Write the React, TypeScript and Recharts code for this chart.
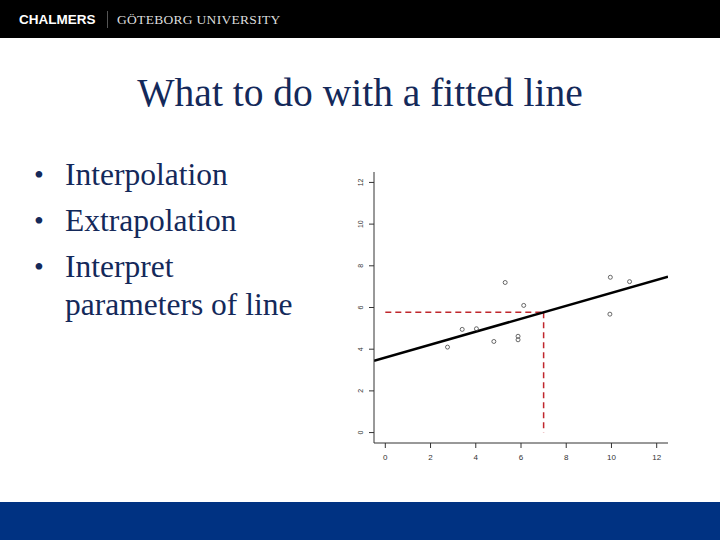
import React from 'react';
import { ComposedChart, Line, Scatter, XAxis, YAxis, ReferenceLine } from 'recharts';

const bullets = ['Interpolation', 'Extrapolation', 'Interpret parameters of line'];
const axisTicks = [0, 2, 4, 6, 8, 10, 12];

// observed points
const pointX = [2.75, 3.4, 4.03, 4.8, 5.3, 5.87, 5.87, 6.12, 9.95, 10.8, 9.93];
const pointY = [4.1, 4.95, 4.98, 4.37, 7.2, 4.62, 4.45, 6.1, 7.45, 7.24, 5.68];

// fitted line endpoints
const fitX = [-0.5, 12.5];
const fitY = [3.44, 7.48];

// interpolation at x = 7
const readX = 7;
const readY = 5.77;

const points = pointX.map((x, i) => ({ x, y: pointY[i] }));
const fit = fitX.map((x, i) => ({ x, y: fitY[i] }));

const navy = '#14295a';
const red = '#c0262c';

function YTick(props: any) {
  const { x, y, payload } = props;
  return (
    <text x={x - 4} y={y} transform={`rotate(-90 ${x - 4} ${y})`} textAnchor="middle" fontSize={7} fill="#333" fontFamily="Liberation Sans, Arial">
      {payload.value}
    </text>
  );
}

function XTick(props: any) {
  const { x, y, payload } = props;
  return (
    <text x={x} y={y + 10} textAnchor="middle" fontSize={8} fill="#333" fontFamily="Liberation Sans, Arial">
      {payload.value}
    </text>
  );
}

const Dot = (props: any) => (
  <circle cx={props.cx} cy={props.cy} r={2} fill="none" stroke="#444" strokeWidth={0.8} />
);

export default function App() {
  return (
    <div style={{ position: 'absolute', left: 0, top: 0, width: 720, height: 540, background: '#fff', overflow: 'hidden' }}>
      <div style={{ position: 'absolute', left: 0, top: 0, width: 720, height: 38, background: '#000' }}>
        <span style={{ position: 'absolute', left: 19, top: 12, color: '#fff', fontFamily: 'Liberation Sans, Arial', fontWeight: 'bold', fontSize: 13.5, lineHeight: '16px' }}>CHALMERS</span>
        <div style={{ position: 'absolute', left: 107, top: 11, width: 1, height: 17, background: '#555' }} />
        <span style={{ position: 'absolute', left: 117, top: 12, color: '#ddd', fontFamily: 'Liberation Serif, Times New Roman', fontSize: 13.5, lineHeight: '16px', letterSpacing: 0.3 }}>GÖTEBORG UNIVERSITY</span>
      </div>
      <div style={{ position: 'absolute', left: 0, top: 71, width: 720, textAlign: 'center', color: navy, fontFamily: 'Liberation Serif, Times New Roman', fontSize: 39.5, lineHeight: '44px' }}>
        What to do with a fitted line
      </div>
      <ul style={{ position: 'absolute', left: 34, top: 156, width: 275, margin: 0, padding: 0, listStyle: 'none', color: navy, fontFamily: 'Liberation Serif, Times New Roman', fontSize: 31.5, lineHeight: '38px' }}>
        {bullets.map((b) => (
          <li key={b} style={{ position: 'relative', paddingLeft: 31, marginBottom: 8 }}>
            <span style={{ position: 'absolute', left: 0, top: 0, fontSize: 28 }}>•</span>
            {b}
          </li>
        ))}
      </ul>
      <div style={{ position: 'absolute', left: 340, top: 160 }}>
        <ComposedChart width={340} height={310} margin={{ top: 12, right: 12, bottom: 5, left: 10 }}>
          <XAxis dataKey="x" type="number" domain={[-0.5, 12.5]} ticks={axisTicks} tick={<XTick />} tickSize={5} stroke="#333" height={22} allowDataOverflow />
          <YAxis dataKey="y" type="number" domain={[-0.5, 12.5]} ticks={axisTicks} tick={<YTick />} tickSize={5} stroke="#333" width={24} allowDataOverflow />
          <ReferenceLine segment={[{ x: 0, y: readY }, { x: readX, y: readY }]} stroke={red} strokeWidth={1.5} strokeDasharray="6 4" />
          <ReferenceLine segment={[{ x: readX, y: readY }, { x: readX, y: 0 }]} stroke={red} strokeWidth={1.5} strokeDasharray="6 4" />
          <Line data={fit} dataKey="y" stroke="#000" strokeWidth={2.5} dot={false} isAnimationActive={false} />
          <Scatter data={points} dataKey="y" shape={<Dot />} isAnimationActive={false} />
        </ComposedChart>
      </div>
      <div style={{ position: 'absolute', left: 0, top: 502, width: 720, height: 38, background: '#003282' }} />
    </div>
  );
}
